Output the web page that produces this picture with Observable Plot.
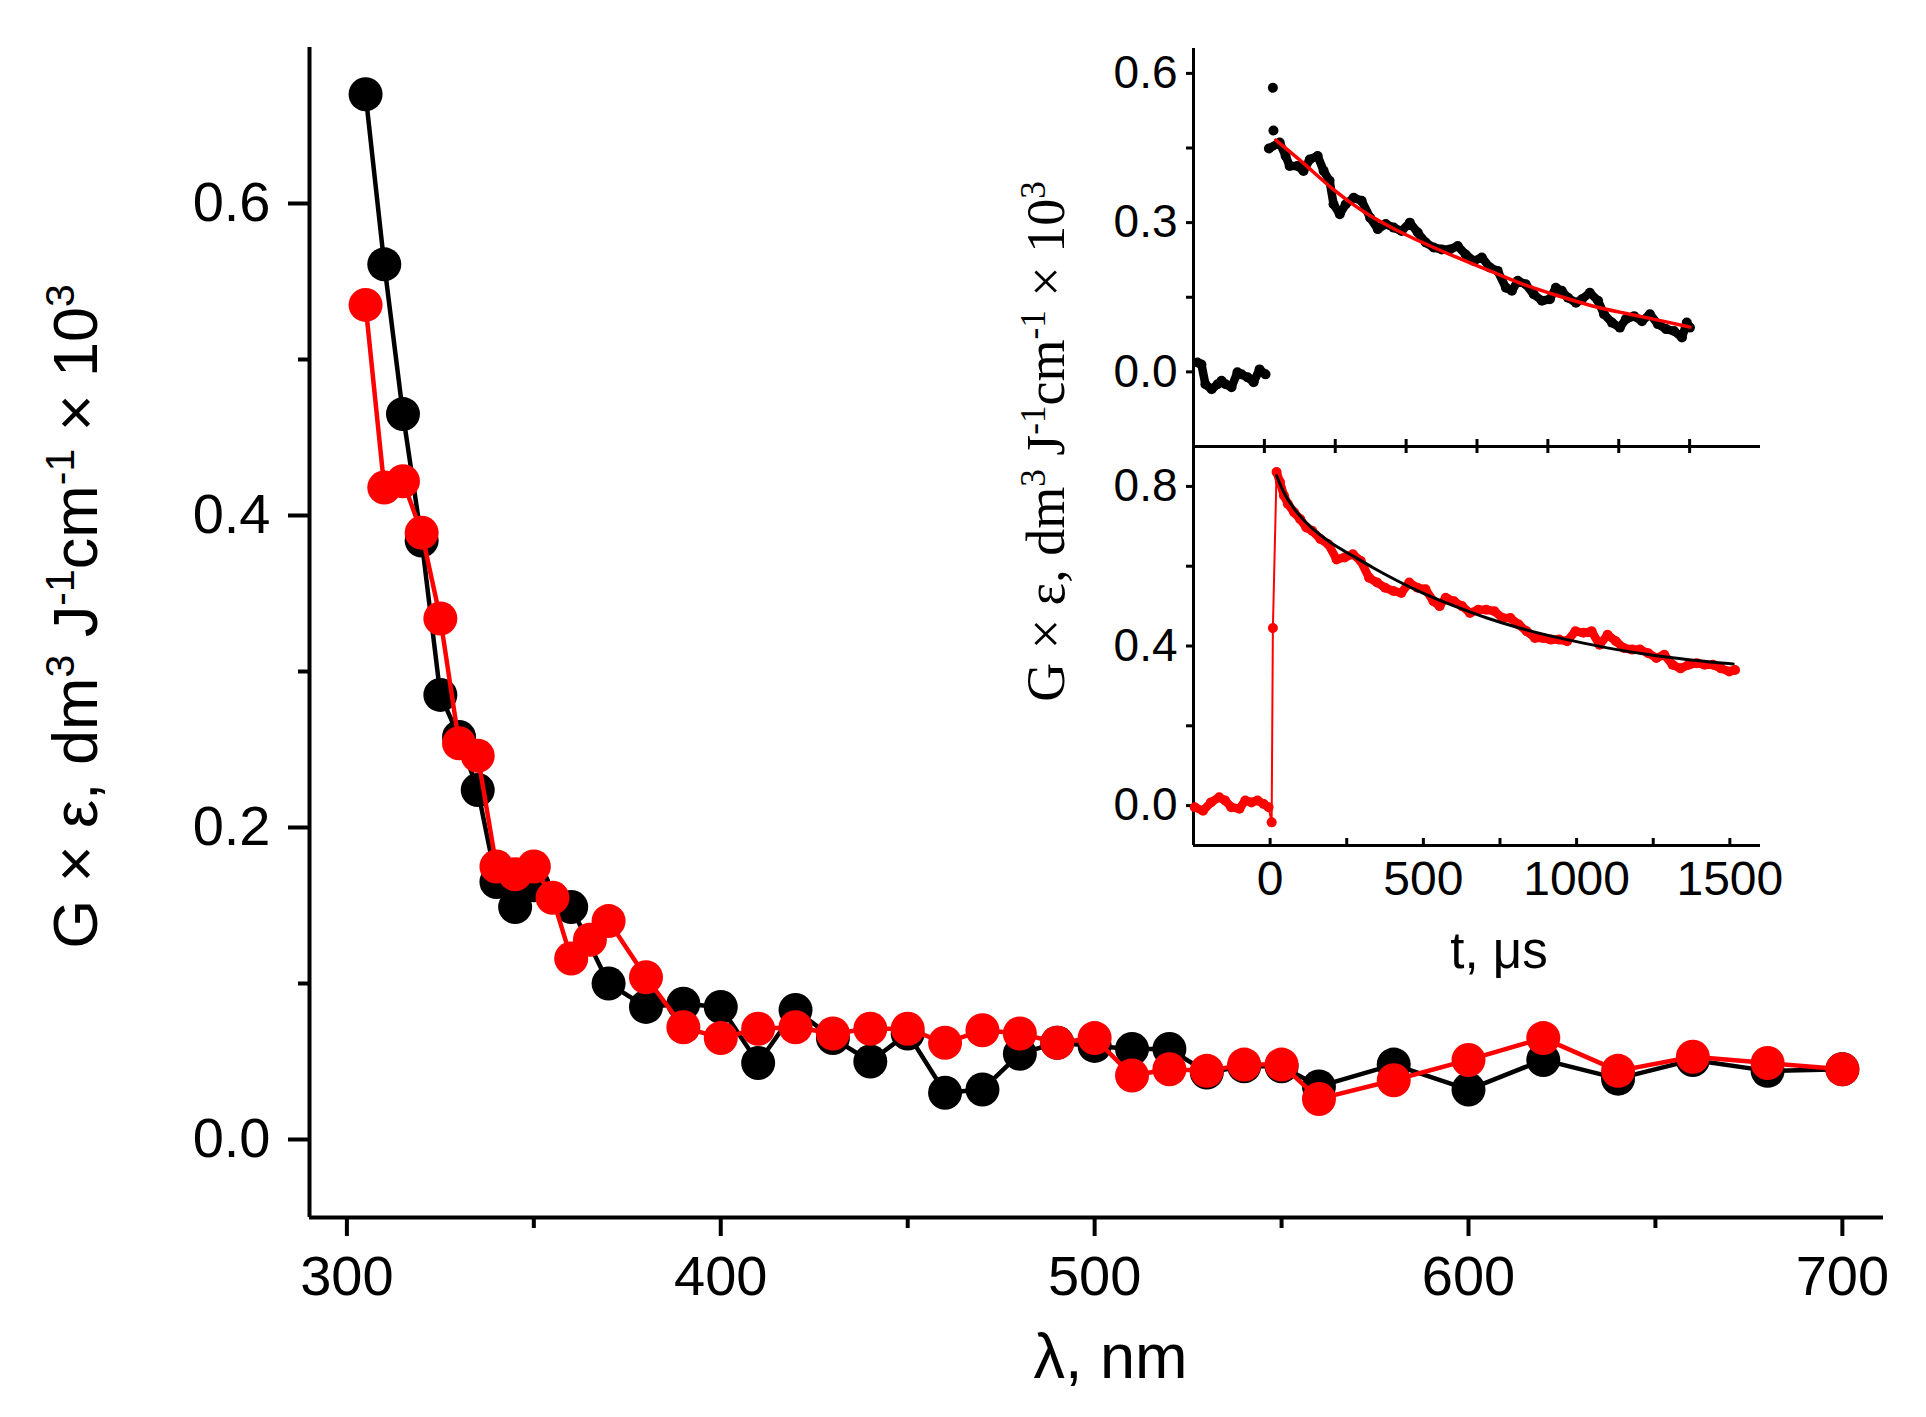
<!DOCTYPE html>
<html>
<head>
<meta charset="utf-8">
<script src="https://cdn.jsdelivr.net/npm/d3@7"></script>
<script src="https://cdn.jsdelivr.net/npm/@observablehq/plot@0.6"></script>
<style>
  body { margin: 0; background: #fff; }
  #chart { position: relative; width: 1926px; height: 1417px; }
  #chart svg { position: absolute; left: 0; top: 0; }
</style>
</head>
<body>
<div id="chart"></div>
<script>
// main spectrum: wavelength (nm) and G x eps values, black and red series
const blackWl = [305, 310, 315, 320, 325, 330, 335, 340, 345, 350, 360, 370, 380, 390, 400, 410, 420, 430, 440, 450,
  460, 470, 480, 490, 500, 510, 520, 530, 540, 550, 560, 580, 600, 620, 640, 660, 680, 700];
const blackG = [0.670, 0.561, 0.465, 0.384, 0.285, 0.258, 0.224, 0.165, 0.149, 0.163, 0.149, 0.100, 0.085, 0.087, 0.085, 0.049, 0.083, 0.065, 0.050, 0.068,
  0.030, 0.032, 0.055, 0.062, 0.060, 0.058, 0.058, 0.043, 0.047, 0.047, 0.034, 0.048, 0.032, 0.051, 0.039, 0.051, 0.044, 0.045];

const redWl = [305, 310, 315, 320, 325, 330, 335, 340, 345, 350, 355, 360, 365, 370, 380, 390, 400, 410, 420, 430,
  440, 450, 460, 470, 480, 490, 500, 510, 520, 530, 540, 550, 560, 580, 600, 620, 640, 660, 680, 700];
const redG = [0.535, 0.418, 0.422, 0.389, 0.334, 0.254, 0.246, 0.175, 0.170, 0.175, 0.155, 0.116, 0.128, 0.140, 0.104, 0.072, 0.065, 0.071, 0.072, 0.068,
  0.071, 0.071, 0.062, 0.070, 0.068, 0.062, 0.065, 0.041, 0.045, 0.044, 0.048, 0.048, 0.026, 0.038, 0.051, 0.065, 0.044, 0.053, 0.049, 0.045];

// inset, upper panel: black kinetic trace and red fit
const topT = [-236, -222, -208, -186, -165, -151, -137, -116, -95, -81, -59, -38, -17, 4,
  16, 30, 32, 54, 75, 89, 117, 138, 160, 188, 209, 230, 244, 266, 287, 315, 343, 373, 400, 428,
  456, 484, 513, 541, 569, 597, 626, 654, 682, 710, 739, 767, 795, 823, 852, 873, 894, 922, 950,
  979, 1007, 1028, 1049, 1071, 1099, 1120, 1148, 1177, 1198, 1226, 1254, 1275, 1304, 1332, 1360,
  1388, 1417, 1445, 1473, 1490, 1501];
const topG = [0.019, 0.015, -0.025, -0.035, -0.025, -0.018, -0.025, -0.031, -0.001, -0.005, -0.011, -0.021, 0.005, -0.005,
  0.449, 0.571, 0.485, 0.461, 0.434, 0.414, 0.414, 0.404, 0.427, 0.434, 0.404, 0.384, 0.337, 0.317, 0.337, 0.350, 0.344, 0.310, 0.287, 0.297,
  0.290, 0.283, 0.300, 0.280, 0.260, 0.250, 0.246, 0.246, 0.253, 0.236, 0.223, 0.230, 0.210, 0.203, 0.169, 0.163, 0.183, 0.176, 0.156,
  0.143, 0.146, 0.169, 0.163, 0.149, 0.139, 0.146, 0.159, 0.143, 0.116, 0.099, 0.089, 0.106, 0.112, 0.102, 0.116,
  0.096, 0.086, 0.082, 0.069, 0.099, 0.089];
const topSpikes = [30, 32]; // isolated points just after the pulse
const topFitT = [40, 131, 244, 358, 470, 583, 696, 809, 922, 1035, 1148, 1261, 1374, 1501];
const topFitG = [0.466, 0.424, 0.364, 0.317, 0.283, 0.253, 0.226, 0.200, 0.173, 0.153, 0.133, 0.119, 0.106, 0.090];

// inset, lower panel: red kinetic trace and black fit
const botT = [-246, -219, -193, -166, -147, -127, -100, -81, -61, -41, -21, -5, 5, 9, 21,
  32, 45, 58, 78, 98, 118, 137, 164, 190, 217, 243, 270, 296, 323, 349, 375, 402, 428, 454, 481,
  507, 533, 553, 573, 600, 626, 652, 679, 705, 732, 758, 784, 811, 837, 864, 890, 916, 943, 969,
  996, 1022, 1049, 1075, 1101, 1128, 1154, 1181, 1207, 1234, 1260, 1286, 1313, 1339, 1366, 1392,
  1418, 1445, 1471, 1498, 1517];
const botG = [-0.004, -0.013, 0.008, 0.021, 0.013, -0.004, -0.008, 0.013, 0.008, 0.013, 0.004, -0.004, -0.042, 0.445, 0.836,
  0.811, 0.777, 0.756, 0.735, 0.718, 0.697, 0.689, 0.668, 0.655, 0.617, 0.622, 0.630, 0.613, 0.571, 0.559, 0.546, 0.538, 0.533, 0.559, 0.546,
  0.542, 0.512, 0.500, 0.521, 0.512, 0.500, 0.483, 0.491, 0.491, 0.487, 0.470, 0.470, 0.454, 0.437, 0.420, 0.420, 0.416, 0.416, 0.412,
  0.437, 0.433, 0.437, 0.403, 0.428, 0.412, 0.395, 0.391, 0.391, 0.382, 0.370, 0.378, 0.353, 0.344, 0.353, 0.357,
  0.353, 0.353, 0.344, 0.336, 0.340];
const botJump = [5, 9]; // points on the rising edge
const botFitT = [21, 45, 85, 137, 203, 270, 335, 415, 494, 600, 705, 811, 917, 1022, 1128, 1234, 1339, 1418, 1511];
const botFitG = [0.827, 0.781, 0.735, 0.693, 0.655, 0.626, 0.596, 0.563, 0.533, 0.500, 0.470, 0.445, 0.424, 0.407, 0.391, 0.378, 0.368, 0.361, 0.355];

// axes
const mainXDomain = [290, 711], mainYDomain = [-0.05, 0.70];
const mainXTicks = [300, 400, 500, 600, 700], mainXMinor = [350, 450, 550, 650];
const mainYTicks = [0, 0.2, 0.4, 0.6], mainYMinor = [0.1, 0.3, 0.5];
const topXDomain = [-250, 1750], topYDomain = [-0.15, 0.65];
const topXTicks = [0, 250, 500, 750, 1000, 1250, 1500];
const topYTicks = [0, 0.3, 0.6], topYMinor = [0.15, 0.45];
const botXDomain = [-250, 1600], botYDomain = [-0.1, 0.9];
const botXTicks = [0, 250, 500, 750, 1000, 1250, 1500], botXLabels = [0, 500, 1000, 1500];
const botYTicks = [0, 0.4, 0.8], botYMinor = [0.2, 0.6];

const yTitle = "G × ε, dm^{3} J^{-1}cm^{-1} × 10^{3}";
const xTitle = "λ, nm";
const tTitle = "t, μs";

const zip = (xs, ys) => xs.map((x, i) => ({x, y: ys[i]}));
const sans = "Arial, 'Liberation Sans', sans-serif";
const serif = "'Times New Roman', 'Liberation Serif', serif";
const blank = () => "";

const topData = zip(topT, topG);
const topBand = topData.filter(d => !topSpikes.includes(d.x));
const botData = zip(botT, botG);
const botBand = botData.filter(d => !botJump.includes(d.x));

const main = Plot.plot({
  width: 1926, height: 1417,
  marginLeft: 309, marginRight: 43, marginTop: 47, marginBottom: 200,
  x: {domain: mainXDomain},
  y: {domain: mainYDomain},
  style: {fontFamily: sans, color: "black", overflow: "visible"},
  marks: [
    Plot.ruleX([mainXDomain[0]], {stroke: "black", strokeWidth: 4}),
    Plot.ruleY([mainYDomain[0]], {stroke: "black", strokeWidth: 4}),
    Plot.axisY(mainYTicks, {tickSize: 21, tickPadding: 18, strokeWidth: 4, fontSize: 56, tickFormat: d3.format(".1f"), label: null}),
    Plot.axisY(mainYMinor, {tickSize: 11, strokeWidth: 4, tickFormat: blank, label: null}),
    Plot.axisX(mainXTicks, {tickSize: 19, tickPadding: 19, strokeWidth: 4, fontSize: 56, tickFormat: d3.format("d"), label: null}),
    Plot.axisX(mainXMinor, {tickSize: 11, strokeWidth: 4, tickFormat: blank, label: null}),
    Plot.line(zip(blackWl, blackG), {x: "x", y: "y", stroke: "black", strokeWidth: 4.5}),
    Plot.dot(zip(blackWl, blackG), {x: "x", y: "y", r: 17, fill: "black"}),
    Plot.line(zip(redWl, redG), {x: "x", y: "y", stroke: "#ff0000", strokeWidth: 4.5}),
    Plot.dot(zip(redWl, redG), {x: "x", y: "y", r: 17, fill: "#ff0000"}),
    Plot.text([yTitle], {text: d => d, frameAnchor: "left", textAnchor: "middle", rotate: -90, dx: -233, dy: -16, fontSize: 63, lineAnchor: "middle"}),
    Plot.text([xTitle], {text: d => d, frameAnchor: "bottom", textAnchor: "middle", dx: 14, dy: 140, fontSize: 63, lineAnchor: "middle"})
  ]
});

const upper = Plot.plot({
  width: 1926, height: 1417,
  marginLeft: 1193, marginRight: 166, marginTop: 48, marginBottom: 971,
  x: {domain: topXDomain},
  y: {domain: topYDomain},
  style: {fontFamily: sans, color: "black", overflow: "visible"},
  marks: [
    Plot.ruleX([topXDomain[0]], {stroke: "black", strokeWidth: 3}),
    Plot.ruleY([topYDomain[0]], {stroke: "black", strokeWidth: 3}),
    Plot.axisY(topYTicks, {tickSize: 7, tickPadding: 9, strokeWidth: 3, fontSize: 46, tickFormat: d3.format(".1f"), label: null}),
    Plot.axisY(topYMinor, {tickSize: 7, strokeWidth: 3, tickFormat: blank, label: null}),
    Plot.axisX(topXTicks, {tickSize: 7, strokeWidth: 3, tickFormat: blank, label: null}),
    Plot.axisX(topXTicks, {tickSize: -7, strokeWidth: 3, tickFormat: blank, label: null}),
    Plot.line(topBand, {x: "x", y: "y", z: d => d.x > 10, stroke: "black", strokeWidth: 8.5, strokeLinejoin: "round", strokeLinecap: "round"}),
    Plot.dot(topData, {x: "x", y: "y", r: 5, fill: "black"}),
    Plot.line(zip(topFitT, topFitG), {x: "x", y: "y", stroke: "#ff0000", strokeWidth: 3.5, curve: "basis"}),
    Plot.text([yTitle], {text: d => d, frameAnchor: "left", textAnchor: "middle", rotate: -90, dx: -147, dy: 194, fontSize: 54, fontFamily: serif, lineAnchor: "middle"})
  ]
});

const lower = Plot.plot({
  width: 1926, height: 1417,
  marginLeft: 1193, marginRight: 166, marginTop: 446, marginBottom: 572,
  x: {domain: botXDomain},
  y: {domain: botYDomain},
  style: {fontFamily: sans, color: "black", overflow: "visible"},
  marks: [
    Plot.ruleX([botXDomain[0]], {stroke: "black", strokeWidth: 3}),
    Plot.ruleY([botYDomain[0]], {stroke: "black", strokeWidth: 3}),
    Plot.axisY(botYTicks, {tickSize: 7, tickPadding: 9, strokeWidth: 3, fontSize: 46, tickFormat: d3.format(".1f"), label: null}),
    Plot.axisY(botYMinor, {tickSize: 7, strokeWidth: 3, tickFormat: blank, label: null}),
    Plot.axisX(botXTicks, {tickSize: -7, strokeWidth: 3, tickFormat: blank, label: null}),
    Plot.axisX(botXLabels, {tickSize: 0, tickPadding: 15, fontSize: 48, tickFormat: d3.format("d"), label: null}),
    Plot.line(botData, {x: "x", y: "y", stroke: "#ff0000", strokeWidth: 2}),
    Plot.line(botBand, {x: "x", y: "y", z: d => d.x > 10, stroke: "#ff0000", strokeWidth: 8.5, strokeLinejoin: "round", strokeLinecap: "round"}),
    Plot.dot(botData, {x: "x", y: "y", r: 5, fill: "#ff0000"}),
    Plot.line(zip(botFitT, botFitG), {x: "x", y: "y", stroke: "black", strokeWidth: 3, curve: "basis"}),
    Plot.text([tTitle], {text: d => d, frameAnchor: "bottom", textAnchor: "middle", dx: 22, dy: 106, fontSize: 51, lineAnchor: "middle"})
  ]
});

// turn ^{..} markers into raised tspans
function superscripts(svg) {
  d3.select(svg).selectAll("text").each(function() {
    const s = this.textContent;
    if (!s.includes("^{")) return;
    const el = d3.select(this);
    el.text(null);
    s.split(/(\^\{[^}]*\})/).forEach(part => {
      if (!part) return;
      const sup = part.startsWith("^{");
      el.append("tspan")
        .attr("font-size", sup ? "65%" : null)
        .attr("baseline-shift", sup ? "super" : null)
        .text(sup ? part.slice(2, -1) : part);
    });
  });
}

const wrap = d3.select("#chart");
[main, upper, lower].forEach(svg => {
  superscripts(svg);
  wrap.append(() => svg);
});
</script>
</body>
</html>
